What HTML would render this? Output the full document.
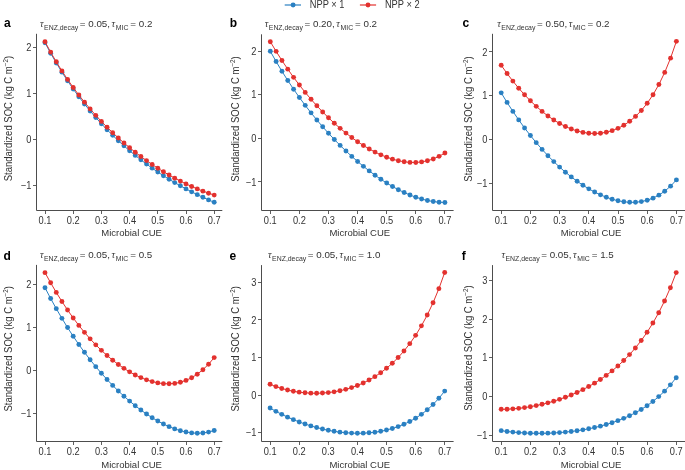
<!DOCTYPE html>
<html><head><meta charset="utf-8"><style>
html,body{margin:0;padding:0;background:#fff;}
body{width:685px;height:470px;overflow:hidden;}
svg{display:block;will-change:transform;}
text{font-family:"Liberation Sans",sans-serif;fill:#333333;}
.tk{font-size:10px;}
.al{font-size:9.5px;}
.yl{font-size:10px;}
.ti{font-size:9.8px;}
.sub{font-size:6.9px;}
.sup{font-size:6.6px;}
.tau{font-family:"Liberation Serif",serif;font-style:italic;font-size:10px;}
.lt{font-weight:bold;font-size:12px;fill:#000;}
.lg{font-size:10px;}
</style></head><body>
<svg width="685" height="470" viewBox="0 0 685 470">
<path d="M36.5 33.8V210.5H222.3" fill="none" stroke="#4d4d4d" stroke-width="1"/>
<line x1="45.5" y1="210.5" x2="45.5" y2="214" stroke="#4d4d4d" stroke-width="0.9"/>
<text transform="translate(45 223.5) scale(0.93 1)" class="tk" text-anchor="middle">0.1</text>
<line x1="73.5" y1="210.5" x2="73.5" y2="214" stroke="#4d4d4d" stroke-width="0.9"/>
<text transform="translate(73.2 223.5) scale(0.93 1)" class="tk" text-anchor="middle">0.2</text>
<line x1="101.5" y1="210.5" x2="101.5" y2="214" stroke="#4d4d4d" stroke-width="0.9"/>
<text transform="translate(101.4 223.5) scale(0.93 1)" class="tk" text-anchor="middle">0.3</text>
<line x1="129.5" y1="210.5" x2="129.5" y2="214" stroke="#4d4d4d" stroke-width="0.9"/>
<text transform="translate(129.6 223.5) scale(0.93 1)" class="tk" text-anchor="middle">0.4</text>
<line x1="157.5" y1="210.5" x2="157.5" y2="214" stroke="#4d4d4d" stroke-width="0.9"/>
<text transform="translate(157.8 223.5) scale(0.93 1)" class="tk" text-anchor="middle">0.5</text>
<line x1="186.5" y1="210.5" x2="186.5" y2="214" stroke="#4d4d4d" stroke-width="0.9"/>
<text transform="translate(186 223.5) scale(0.93 1)" class="tk" text-anchor="middle">0.6</text>
<line x1="214.5" y1="210.5" x2="214.5" y2="214" stroke="#4d4d4d" stroke-width="0.9"/>
<text transform="translate(214.2 223.5) scale(0.93 1)" class="tk" text-anchor="middle">0.7</text>
<line x1="33" y1="47.5" x2="36.5" y2="47.5" stroke="#4d4d4d" stroke-width="0.9"/>
<text transform="translate(31.5 50.9) scale(0.93 1)" class="tk" text-anchor="end">2</text>
<line x1="33" y1="93.5" x2="36.5" y2="93.5" stroke="#4d4d4d" stroke-width="0.9"/>
<text transform="translate(31.5 97) scale(0.93 1)" class="tk" text-anchor="end">1</text>
<line x1="33" y1="139.5" x2="36.5" y2="139.5" stroke="#4d4d4d" stroke-width="0.9"/>
<text transform="translate(31.5 143) scale(0.93 1)" class="tk" text-anchor="end">0</text>
<line x1="33" y1="185.5" x2="36.5" y2="185.5" stroke="#4d4d4d" stroke-width="0.9"/>
<text transform="translate(31.5 189.1) scale(0.93 1)" class="tk" text-anchor="end">−1</text>
<polyline points="45,42.75 50.64,53.19 56.28,62.98 61.92,72.17 67.56,80.83 73.2,88.99 78.84,96.7 84.48,104.01 90.12,110.93 95.76,117.5 101.4,123.74 107.04,129.68 112.68,135.34 118.32,140.72 123.96,145.86 129.6,150.75 135.24,155.42 140.88,159.87 146.52,164.11 152.16,168.16 157.8,172.03 163.44,175.72 169.08,179.24 174.72,182.6 180.36,185.82 186,188.89 191.64,191.83 197.28,194.63 202.92,197.32 208.56,199.88 214.2,202.32" fill="none" stroke="#2a80c2" stroke-width="1.0"/>
<g fill="#2a80c2"><circle cx="45" cy="42.75" r="2.45"/><circle cx="50.64" cy="53.19" r="2.45"/><circle cx="56.28" cy="62.98" r="2.45"/><circle cx="61.92" cy="72.17" r="2.45"/><circle cx="67.56" cy="80.83" r="2.45"/><circle cx="73.2" cy="88.99" r="2.45"/><circle cx="78.84" cy="96.7" r="2.45"/><circle cx="84.48" cy="104.01" r="2.45"/><circle cx="90.12" cy="110.93" r="2.45"/><circle cx="95.76" cy="117.5" r="2.45"/><circle cx="101.4" cy="123.74" r="2.45"/><circle cx="107.04" cy="129.68" r="2.45"/><circle cx="112.68" cy="135.34" r="2.45"/><circle cx="118.32" cy="140.72" r="2.45"/><circle cx="123.96" cy="145.86" r="2.45"/><circle cx="129.6" cy="150.75" r="2.45"/><circle cx="135.24" cy="155.42" r="2.45"/><circle cx="140.88" cy="159.87" r="2.45"/><circle cx="146.52" cy="164.11" r="2.45"/><circle cx="152.16" cy="168.16" r="2.45"/><circle cx="157.8" cy="172.03" r="2.45"/><circle cx="163.44" cy="175.72" r="2.45"/><circle cx="169.08" cy="179.24" r="2.45"/><circle cx="174.72" cy="182.6" r="2.45"/><circle cx="180.36" cy="185.82" r="2.45"/><circle cx="186" cy="188.89" r="2.45"/><circle cx="191.64" cy="191.83" r="2.45"/><circle cx="197.28" cy="194.63" r="2.45"/><circle cx="202.92" cy="197.32" r="2.45"/><circle cx="208.56" cy="199.88" r="2.45"/><circle cx="214.2" cy="202.32" r="2.45"/></g>
<polyline points="45,41.69 50.64,52.09 56.28,61.8 61.92,70.89 67.56,79.42 73.2,87.44 78.84,95.01 84.48,102.16 90.12,108.92 95.76,115.33 101.4,121.42 107.04,127.2 112.68,132.71 118.32,137.94 123.96,142.93 129.6,147.68 135.24,152.21 140.88,156.51 146.52,160.61 152.16,164.5 157.8,168.2 163.44,171.71 169.08,175.02 174.72,178.15 180.36,181.11 186,183.88 191.64,186.47 197.28,188.89 202.92,191.13 208.56,193.2 214.2,195.08" fill="none" stroke="#e3312e" stroke-width="1.0"/>
<g fill="#e3312e"><circle cx="45" cy="41.69" r="2.45"/><circle cx="50.64" cy="52.09" r="2.45"/><circle cx="56.28" cy="61.8" r="2.45"/><circle cx="61.92" cy="70.89" r="2.45"/><circle cx="67.56" cy="79.42" r="2.45"/><circle cx="73.2" cy="87.44" r="2.45"/><circle cx="78.84" cy="95.01" r="2.45"/><circle cx="84.48" cy="102.16" r="2.45"/><circle cx="90.12" cy="108.92" r="2.45"/><circle cx="95.76" cy="115.33" r="2.45"/><circle cx="101.4" cy="121.42" r="2.45"/><circle cx="107.04" cy="127.2" r="2.45"/><circle cx="112.68" cy="132.71" r="2.45"/><circle cx="118.32" cy="137.94" r="2.45"/><circle cx="123.96" cy="142.93" r="2.45"/><circle cx="129.6" cy="147.68" r="2.45"/><circle cx="135.24" cy="152.21" r="2.45"/><circle cx="140.88" cy="156.51" r="2.45"/><circle cx="146.52" cy="160.61" r="2.45"/><circle cx="152.16" cy="164.5" r="2.45"/><circle cx="157.8" cy="168.2" r="2.45"/><circle cx="163.44" cy="171.71" r="2.45"/><circle cx="169.08" cy="175.02" r="2.45"/><circle cx="174.72" cy="178.15" r="2.45"/><circle cx="180.36" cy="181.11" r="2.45"/><circle cx="186" cy="183.88" r="2.45"/><circle cx="191.64" cy="186.47" r="2.45"/><circle cx="197.28" cy="188.89" r="2.45"/><circle cx="202.92" cy="191.13" r="2.45"/><circle cx="208.56" cy="193.2" r="2.45"/><circle cx="214.2" cy="195.08" r="2.45"/></g>
<text y="27" class="ti"><tspan x="40" class="tau">τ</tspan><tspan x="44.1" class="sub" dy="3">ENZ,decay</tspan><tspan x="79.8" dy="-3">= 0.05,</tspan><tspan x="111.5" class="tau">τ</tspan><tspan x="115.8" class="sub" dy="3">MIC</tspan><tspan x="130.3" dy="-3">= 0.2</tspan></text>
<text x="4" y="26.9" class="lt">a</text>
<text transform="translate(11.8 118.6) rotate(-90) scale(0.95 1)" class="yl" text-anchor="middle">Standardized SOC (kg C m<tspan class="sup" dy="-3.5">−2</tspan><tspan dy="3.5">)</tspan></text>
<text x="131.6" y="235.8" class="al" text-anchor="middle">Microbial CUE</text>
<path d="M261.5 34.3V210.5H453.6" fill="none" stroke="#4d4d4d" stroke-width="1"/>
<line x1="270.5" y1="210.5" x2="270.5" y2="214" stroke="#4d4d4d" stroke-width="0.9"/>
<text transform="translate(270.3 223.5) scale(0.93 1)" class="tk" text-anchor="middle">0.1</text>
<line x1="299.5" y1="210.5" x2="299.5" y2="214" stroke="#4d4d4d" stroke-width="0.9"/>
<text transform="translate(299.4 223.5) scale(0.93 1)" class="tk" text-anchor="middle">0.2</text>
<line x1="328.5" y1="210.5" x2="328.5" y2="214" stroke="#4d4d4d" stroke-width="0.9"/>
<text transform="translate(328.5 223.5) scale(0.93 1)" class="tk" text-anchor="middle">0.3</text>
<line x1="357.5" y1="210.5" x2="357.5" y2="214" stroke="#4d4d4d" stroke-width="0.9"/>
<text transform="translate(357.6 223.5) scale(0.93 1)" class="tk" text-anchor="middle">0.4</text>
<line x1="386.5" y1="210.5" x2="386.5" y2="214" stroke="#4d4d4d" stroke-width="0.9"/>
<text transform="translate(386.7 223.5) scale(0.93 1)" class="tk" text-anchor="middle">0.5</text>
<line x1="415.5" y1="210.5" x2="415.5" y2="214" stroke="#4d4d4d" stroke-width="0.9"/>
<text transform="translate(415.8 223.5) scale(0.93 1)" class="tk" text-anchor="middle">0.6</text>
<line x1="444.5" y1="210.5" x2="444.5" y2="214" stroke="#4d4d4d" stroke-width="0.9"/>
<text transform="translate(444.9 223.5) scale(0.93 1)" class="tk" text-anchor="middle">0.7</text>
<line x1="258" y1="51.5" x2="261.5" y2="51.5" stroke="#4d4d4d" stroke-width="0.9"/>
<text transform="translate(256.5 54.9) scale(0.93 1)" class="tk" text-anchor="end">2</text>
<line x1="258" y1="94.5" x2="261.5" y2="94.5" stroke="#4d4d4d" stroke-width="0.9"/>
<text transform="translate(256.5 98.4) scale(0.93 1)" class="tk" text-anchor="end">1</text>
<line x1="258" y1="138.5" x2="261.5" y2="138.5" stroke="#4d4d4d" stroke-width="0.9"/>
<text transform="translate(256.5 142) scale(0.93 1)" class="tk" text-anchor="end">0</text>
<line x1="258" y1="181.5" x2="261.5" y2="181.5" stroke="#4d4d4d" stroke-width="0.9"/>
<text transform="translate(256.5 185.5) scale(0.93 1)" class="tk" text-anchor="end">−1</text>
<polyline points="270.3,51.27 276.12,61.54 281.94,71.26 287.76,80.47 293.58,89.2 299.4,97.48 305.22,105.36 311.04,112.85 316.86,119.99 322.68,126.79 328.5,133.28 334.32,139.47 340.14,145.38 345.96,151.01 351.78,156.38 357.6,161.49 363.42,166.34 369.24,170.92 375.06,175.24 380.88,179.29 386.7,183.05 392.52,186.52 398.34,189.68 404.16,192.53 409.98,195.04 415.8,197.21 421.62,199.02 427.44,200.46 433.26,201.51 439.08,202.18 444.9,202.46" fill="none" stroke="#2a80c2" stroke-width="1.0"/>
<g fill="#2a80c2"><circle cx="270.3" cy="51.27" r="2.45"/><circle cx="276.12" cy="61.54" r="2.45"/><circle cx="281.94" cy="71.26" r="2.45"/><circle cx="287.76" cy="80.47" r="2.45"/><circle cx="293.58" cy="89.2" r="2.45"/><circle cx="299.4" cy="97.48" r="2.45"/><circle cx="305.22" cy="105.36" r="2.45"/><circle cx="311.04" cy="112.85" r="2.45"/><circle cx="316.86" cy="119.99" r="2.45"/><circle cx="322.68" cy="126.79" r="2.45"/><circle cx="328.5" cy="133.28" r="2.45"/><circle cx="334.32" cy="139.47" r="2.45"/><circle cx="340.14" cy="145.38" r="2.45"/><circle cx="345.96" cy="151.01" r="2.45"/><circle cx="351.78" cy="156.38" r="2.45"/><circle cx="357.6" cy="161.49" r="2.45"/><circle cx="363.42" cy="166.34" r="2.45"/><circle cx="369.24" cy="170.92" r="2.45"/><circle cx="375.06" cy="175.24" r="2.45"/><circle cx="380.88" cy="179.29" r="2.45"/><circle cx="386.7" cy="183.05" r="2.45"/><circle cx="392.52" cy="186.52" r="2.45"/><circle cx="398.34" cy="189.68" r="2.45"/><circle cx="404.16" cy="192.53" r="2.45"/><circle cx="409.98" cy="195.04" r="2.45"/><circle cx="415.8" cy="197.21" r="2.45"/><circle cx="421.62" cy="199.02" r="2.45"/><circle cx="427.44" cy="200.46" r="2.45"/><circle cx="433.26" cy="201.51" r="2.45"/><circle cx="439.08" cy="202.18" r="2.45"/><circle cx="444.9" cy="202.46" r="2.45"/></g>
<polyline points="270.3,41.69 276.12,51.35 281.94,60.5 287.76,69.15 293.58,77.33 299.4,85.07 305.22,92.38 311.04,99.29 316.86,105.82 322.68,111.97 328.5,117.77 334.32,123.22 340.14,128.33 345.96,133.12 351.78,137.57 357.6,141.7 363.42,145.5 369.24,148.96 375.06,152.08 380.88,154.83 386.7,157.2 392.52,159.17 398.34,160.71 404.16,161.79 409.98,162.38 415.8,162.43 421.62,161.91 427.44,160.76 433.26,158.93 439.08,156.36 444.9,152.99" fill="none" stroke="#e3312e" stroke-width="1.0"/>
<g fill="#e3312e"><circle cx="270.3" cy="41.69" r="2.45"/><circle cx="276.12" cy="51.35" r="2.45"/><circle cx="281.94" cy="60.5" r="2.45"/><circle cx="287.76" cy="69.15" r="2.45"/><circle cx="293.58" cy="77.33" r="2.45"/><circle cx="299.4" cy="85.07" r="2.45"/><circle cx="305.22" cy="92.38" r="2.45"/><circle cx="311.04" cy="99.29" r="2.45"/><circle cx="316.86" cy="105.82" r="2.45"/><circle cx="322.68" cy="111.97" r="2.45"/><circle cx="328.5" cy="117.77" r="2.45"/><circle cx="334.32" cy="123.22" r="2.45"/><circle cx="340.14" cy="128.33" r="2.45"/><circle cx="345.96" cy="133.12" r="2.45"/><circle cx="351.78" cy="137.57" r="2.45"/><circle cx="357.6" cy="141.7" r="2.45"/><circle cx="363.42" cy="145.5" r="2.45"/><circle cx="369.24" cy="148.96" r="2.45"/><circle cx="375.06" cy="152.08" r="2.45"/><circle cx="380.88" cy="154.83" r="2.45"/><circle cx="386.7" cy="157.2" r="2.45"/><circle cx="392.52" cy="159.17" r="2.45"/><circle cx="398.34" cy="160.71" r="2.45"/><circle cx="404.16" cy="161.79" r="2.45"/><circle cx="409.98" cy="162.38" r="2.45"/><circle cx="415.8" cy="162.43" r="2.45"/><circle cx="421.62" cy="161.91" r="2.45"/><circle cx="427.44" cy="160.76" r="2.45"/><circle cx="433.26" cy="158.93" r="2.45"/><circle cx="439.08" cy="156.36" r="2.45"/><circle cx="444.9" cy="152.99" r="2.45"/></g>
<text y="27" class="ti"><tspan x="264.7" class="tau">τ</tspan><tspan x="268.8" class="sub" dy="3">ENZ,decay</tspan><tspan x="304.5" dy="-3">= 0.20,</tspan><tspan x="336.2" class="tau">τ</tspan><tspan x="340.5" class="sub" dy="3">MIC</tspan><tspan x="355" dy="-3">= 0.2</tspan></text>
<text x="229.8" y="26.9" class="lt">b</text>
<text transform="translate(238.6 119) rotate(-90) scale(0.95 1)" class="yl" text-anchor="middle">Standardized SOC (kg C m<tspan class="sup" dy="-3.5">−2</tspan><tspan dy="3.5">)</tspan></text>
<text x="359.8" y="235.8" class="al" text-anchor="middle">Microbial CUE</text>
<path d="M492.5 33.8V210.5H685.5" fill="none" stroke="#4d4d4d" stroke-width="1"/>
<line x1="501.5" y1="210.5" x2="501.5" y2="214" stroke="#4d4d4d" stroke-width="0.9"/>
<text transform="translate(501.2 223.5) scale(0.93 1)" class="tk" text-anchor="middle">0.1</text>
<line x1="530.5" y1="210.5" x2="530.5" y2="214" stroke="#4d4d4d" stroke-width="0.9"/>
<text transform="translate(530.4 223.5) scale(0.93 1)" class="tk" text-anchor="middle">0.2</text>
<line x1="559.5" y1="210.5" x2="559.5" y2="214" stroke="#4d4d4d" stroke-width="0.9"/>
<text transform="translate(559.6 223.5) scale(0.93 1)" class="tk" text-anchor="middle">0.3</text>
<line x1="588.5" y1="210.5" x2="588.5" y2="214" stroke="#4d4d4d" stroke-width="0.9"/>
<text transform="translate(588.8 223.5) scale(0.93 1)" class="tk" text-anchor="middle">0.4</text>
<line x1="618.5" y1="210.5" x2="618.5" y2="214" stroke="#4d4d4d" stroke-width="0.9"/>
<text transform="translate(618 223.5) scale(0.93 1)" class="tk" text-anchor="middle">0.5</text>
<line x1="647.5" y1="210.5" x2="647.5" y2="214" stroke="#4d4d4d" stroke-width="0.9"/>
<text transform="translate(647.2 223.5) scale(0.93 1)" class="tk" text-anchor="middle">0.6</text>
<line x1="676.5" y1="210.5" x2="676.5" y2="214" stroke="#4d4d4d" stroke-width="0.9"/>
<text transform="translate(676.4 223.5) scale(0.93 1)" class="tk" text-anchor="middle">0.7</text>
<line x1="489" y1="51.5" x2="492.5" y2="51.5" stroke="#4d4d4d" stroke-width="0.9"/>
<text transform="translate(487.5 55.5) scale(0.93 1)" class="tk" text-anchor="end">2</text>
<line x1="489" y1="95.5" x2="492.5" y2="95.5" stroke="#4d4d4d" stroke-width="0.9"/>
<text transform="translate(487.5 99.3) scale(0.93 1)" class="tk" text-anchor="end">1</text>
<line x1="489" y1="139.5" x2="492.5" y2="139.5" stroke="#4d4d4d" stroke-width="0.9"/>
<text transform="translate(487.5 143.1) scale(0.93 1)" class="tk" text-anchor="end">0</text>
<line x1="489" y1="183.5" x2="492.5" y2="183.5" stroke="#4d4d4d" stroke-width="0.9"/>
<text transform="translate(487.5 186.8) scale(0.93 1)" class="tk" text-anchor="end">−1</text>
<polyline points="501.2,92.86 507.04,102.39 512.88,111.39 518.72,119.91 524.56,127.95 530.4,135.53 536.24,142.67 542.08,149.38 547.92,155.68 553.76,161.58 559.6,167.08 565.44,172.19 571.28,176.92 577.12,181.27 582.96,185.24 588.8,188.83 594.64,192.04 600.48,194.85 606.32,197.25 612.16,199.22 618,200.75 623.84,201.79 629.68,202.31 635.52,202.27 641.36,201.61 647.2,200.25 653.04,198.13 658.88,195.15 664.72,191.2 670.56,186.17 676.4,179.92" fill="none" stroke="#2a80c2" stroke-width="1.0"/>
<g fill="#2a80c2"><circle cx="501.2" cy="92.86" r="2.45"/><circle cx="507.04" cy="102.39" r="2.45"/><circle cx="512.88" cy="111.39" r="2.45"/><circle cx="518.72" cy="119.91" r="2.45"/><circle cx="524.56" cy="127.95" r="2.45"/><circle cx="530.4" cy="135.53" r="2.45"/><circle cx="536.24" cy="142.67" r="2.45"/><circle cx="542.08" cy="149.38" r="2.45"/><circle cx="547.92" cy="155.68" r="2.45"/><circle cx="553.76" cy="161.58" r="2.45"/><circle cx="559.6" cy="167.08" r="2.45"/><circle cx="565.44" cy="172.19" r="2.45"/><circle cx="571.28" cy="176.92" r="2.45"/><circle cx="577.12" cy="181.27" r="2.45"/><circle cx="582.96" cy="185.24" r="2.45"/><circle cx="588.8" cy="188.83" r="2.45"/><circle cx="594.64" cy="192.04" r="2.45"/><circle cx="600.48" cy="194.85" r="2.45"/><circle cx="606.32" cy="197.25" r="2.45"/><circle cx="612.16" cy="199.22" r="2.45"/><circle cx="618" cy="200.75" r="2.45"/><circle cx="623.84" cy="201.79" r="2.45"/><circle cx="629.68" cy="202.31" r="2.45"/><circle cx="635.52" cy="202.27" r="2.45"/><circle cx="641.36" cy="201.61" r="2.45"/><circle cx="647.2" cy="200.25" r="2.45"/><circle cx="653.04" cy="198.13" r="2.45"/><circle cx="658.88" cy="195.15" r="2.45"/><circle cx="664.72" cy="191.2" r="2.45"/><circle cx="670.56" cy="186.17" r="2.45"/><circle cx="676.4" cy="179.92" r="2.45"/></g>
<polyline points="501.2,65.23 507.04,73.48 512.88,81.12 518.72,88.21 524.56,94.77 530.4,100.82 536.24,106.36 542.08,111.4 547.92,115.94 553.76,119.98 559.6,123.5 565.44,126.52 571.28,129.01 577.12,130.96 582.96,132.38 588.8,133.23 594.64,133.51 600.48,133.2 606.32,132.26 612.16,130.65 618,128.34 623.84,125.25 629.68,121.31 635.52,116.42 641.36,110.46 647.2,103.28 653.04,94.7 658.88,84.5 664.72,72.42 670.56,58.15 676.4,41.34" fill="none" stroke="#e3312e" stroke-width="1.0"/>
<g fill="#e3312e"><circle cx="501.2" cy="65.23" r="2.45"/><circle cx="507.04" cy="73.48" r="2.45"/><circle cx="512.88" cy="81.12" r="2.45"/><circle cx="518.72" cy="88.21" r="2.45"/><circle cx="524.56" cy="94.77" r="2.45"/><circle cx="530.4" cy="100.82" r="2.45"/><circle cx="536.24" cy="106.36" r="2.45"/><circle cx="542.08" cy="111.4" r="2.45"/><circle cx="547.92" cy="115.94" r="2.45"/><circle cx="553.76" cy="119.98" r="2.45"/><circle cx="559.6" cy="123.5" r="2.45"/><circle cx="565.44" cy="126.52" r="2.45"/><circle cx="571.28" cy="129.01" r="2.45"/><circle cx="577.12" cy="130.96" r="2.45"/><circle cx="582.96" cy="132.38" r="2.45"/><circle cx="588.8" cy="133.23" r="2.45"/><circle cx="594.64" cy="133.51" r="2.45"/><circle cx="600.48" cy="133.2" r="2.45"/><circle cx="606.32" cy="132.26" r="2.45"/><circle cx="612.16" cy="130.65" r="2.45"/><circle cx="618" cy="128.34" r="2.45"/><circle cx="623.84" cy="125.25" r="2.45"/><circle cx="629.68" cy="121.31" r="2.45"/><circle cx="635.52" cy="116.42" r="2.45"/><circle cx="641.36" cy="110.46" r="2.45"/><circle cx="647.2" cy="103.28" r="2.45"/><circle cx="653.04" cy="94.7" r="2.45"/><circle cx="658.88" cy="84.5" r="2.45"/><circle cx="664.72" cy="72.42" r="2.45"/><circle cx="670.56" cy="58.15" r="2.45"/><circle cx="676.4" cy="41.34" r="2.45"/></g>
<text y="27" class="ti"><tspan x="497.2" class="tau">τ</tspan><tspan x="501.3" class="sub" dy="3">ENZ,decay</tspan><tspan x="537" dy="-3">= 0.50,</tspan><tspan x="568.7" class="tau">τ</tspan><tspan x="573" class="sub" dy="3">MIC</tspan><tspan x="587.5" dy="-3">= 0.2</tspan></text>
<text x="462.5" y="26.9" class="lt">c</text>
<text transform="translate(471.5 119) rotate(-90) scale(0.95 1)" class="yl" text-anchor="middle">Standardized SOC (kg C m<tspan class="sup" dy="-3.5">−2</tspan><tspan dy="3.5">)</tspan></text>
<text x="591.1" y="235.8" class="al" text-anchor="middle">Microbial CUE</text>
<path d="M36.5 264.9V441.5H222.3" fill="none" stroke="#4d4d4d" stroke-width="1"/>
<line x1="45.5" y1="441.5" x2="45.5" y2="445" stroke="#4d4d4d" stroke-width="0.9"/>
<text transform="translate(45 454.5) scale(0.93 1)" class="tk" text-anchor="middle">0.1</text>
<line x1="73.5" y1="441.5" x2="73.5" y2="445" stroke="#4d4d4d" stroke-width="0.9"/>
<text transform="translate(73.2 454.5) scale(0.93 1)" class="tk" text-anchor="middle">0.2</text>
<line x1="101.5" y1="441.5" x2="101.5" y2="445" stroke="#4d4d4d" stroke-width="0.9"/>
<text transform="translate(101.4 454.5) scale(0.93 1)" class="tk" text-anchor="middle">0.3</text>
<line x1="129.5" y1="441.5" x2="129.5" y2="445" stroke="#4d4d4d" stroke-width="0.9"/>
<text transform="translate(129.6 454.5) scale(0.93 1)" class="tk" text-anchor="middle">0.4</text>
<line x1="157.5" y1="441.5" x2="157.5" y2="445" stroke="#4d4d4d" stroke-width="0.9"/>
<text transform="translate(157.8 454.5) scale(0.93 1)" class="tk" text-anchor="middle">0.5</text>
<line x1="186.5" y1="441.5" x2="186.5" y2="445" stroke="#4d4d4d" stroke-width="0.9"/>
<text transform="translate(186 454.5) scale(0.93 1)" class="tk" text-anchor="middle">0.6</text>
<line x1="214.5" y1="441.5" x2="214.5" y2="445" stroke="#4d4d4d" stroke-width="0.9"/>
<text transform="translate(214.2 454.5) scale(0.93 1)" class="tk" text-anchor="middle">0.7</text>
<line x1="33" y1="284.5" x2="36.5" y2="284.5" stroke="#4d4d4d" stroke-width="0.9"/>
<text transform="translate(31.5 287.9) scale(0.93 1)" class="tk" text-anchor="end">2</text>
<line x1="33" y1="327.5" x2="36.5" y2="327.5" stroke="#4d4d4d" stroke-width="0.9"/>
<text transform="translate(31.5 330.8) scale(0.93 1)" class="tk" text-anchor="end">1</text>
<line x1="33" y1="370.5" x2="36.5" y2="370.5" stroke="#4d4d4d" stroke-width="0.9"/>
<text transform="translate(31.5 373.8) scale(0.93 1)" class="tk" text-anchor="end">0</text>
<line x1="33" y1="413.5" x2="36.5" y2="413.5" stroke="#4d4d4d" stroke-width="0.9"/>
<text transform="translate(31.5 416.7) scale(0.93 1)" class="tk" text-anchor="end">−1</text>
<polyline points="45,287.7 50.64,298.45 56.28,308.67 61.92,318.36 67.56,327.55 73.2,336.26 78.84,344.5 84.48,352.3 90.12,359.69 95.76,366.67 101.4,373.27 107.04,379.5 112.68,385.4 118.32,390.96 123.96,396.2 129.6,401.12 135.24,405.74 140.88,410.04 146.52,414.04 152.16,417.71 157.8,421.05 163.44,424.03 169.08,426.65 174.72,428.88 180.36,430.68 186,432.03 191.64,432.88 197.28,433.21 202.92,432.96 208.56,432.1 214.2,430.56" fill="none" stroke="#2a80c2" stroke-width="1.0"/>
<g fill="#2a80c2"><circle cx="45" cy="287.7" r="2.45"/><circle cx="50.64" cy="298.45" r="2.45"/><circle cx="56.28" cy="308.67" r="2.45"/><circle cx="61.92" cy="318.36" r="2.45"/><circle cx="67.56" cy="327.55" r="2.45"/><circle cx="73.2" cy="336.26" r="2.45"/><circle cx="78.84" cy="344.5" r="2.45"/><circle cx="84.48" cy="352.3" r="2.45"/><circle cx="90.12" cy="359.69" r="2.45"/><circle cx="95.76" cy="366.67" r="2.45"/><circle cx="101.4" cy="373.27" r="2.45"/><circle cx="107.04" cy="379.5" r="2.45"/><circle cx="112.68" cy="385.4" r="2.45"/><circle cx="118.32" cy="390.96" r="2.45"/><circle cx="123.96" cy="396.2" r="2.45"/><circle cx="129.6" cy="401.12" r="2.45"/><circle cx="135.24" cy="405.74" r="2.45"/><circle cx="140.88" cy="410.04" r="2.45"/><circle cx="146.52" cy="414.04" r="2.45"/><circle cx="152.16" cy="417.71" r="2.45"/><circle cx="157.8" cy="421.05" r="2.45"/><circle cx="163.44" cy="424.03" r="2.45"/><circle cx="169.08" cy="426.65" r="2.45"/><circle cx="174.72" cy="428.88" r="2.45"/><circle cx="180.36" cy="430.68" r="2.45"/><circle cx="186" cy="432.03" r="2.45"/><circle cx="191.64" cy="432.88" r="2.45"/><circle cx="197.28" cy="433.21" r="2.45"/><circle cx="202.92" cy="432.96" r="2.45"/><circle cx="208.56" cy="432.1" r="2.45"/><circle cx="214.2" cy="430.56" r="2.45"/></g>
<polyline points="45,272.67 50.64,282.82 56.28,292.42 61.92,301.48 67.56,309.99 73.2,317.97 78.84,325.42 84.48,332.37 90.12,338.83 95.76,344.83 101.4,350.37 107.04,355.49 112.68,360.19 118.32,364.48 123.96,368.37 129.6,371.86 135.24,374.94 140.88,377.61 146.52,379.84 152.16,381.61 157.8,382.89 163.44,383.64 169.08,383.82 174.72,383.38 180.36,382.26 186,380.4 191.64,377.73 197.28,374.2 202.92,369.71 208.56,364.21 214.2,357.61" fill="none" stroke="#e3312e" stroke-width="1.0"/>
<g fill="#e3312e"><circle cx="45" cy="272.67" r="2.45"/><circle cx="50.64" cy="282.82" r="2.45"/><circle cx="56.28" cy="292.42" r="2.45"/><circle cx="61.92" cy="301.48" r="2.45"/><circle cx="67.56" cy="309.99" r="2.45"/><circle cx="73.2" cy="317.97" r="2.45"/><circle cx="78.84" cy="325.42" r="2.45"/><circle cx="84.48" cy="332.37" r="2.45"/><circle cx="90.12" cy="338.83" r="2.45"/><circle cx="95.76" cy="344.83" r="2.45"/><circle cx="101.4" cy="350.37" r="2.45"/><circle cx="107.04" cy="355.49" r="2.45"/><circle cx="112.68" cy="360.19" r="2.45"/><circle cx="118.32" cy="364.48" r="2.45"/><circle cx="123.96" cy="368.37" r="2.45"/><circle cx="129.6" cy="371.86" r="2.45"/><circle cx="135.24" cy="374.94" r="2.45"/><circle cx="140.88" cy="377.61" r="2.45"/><circle cx="146.52" cy="379.84" r="2.45"/><circle cx="152.16" cy="381.61" r="2.45"/><circle cx="157.8" cy="382.89" r="2.45"/><circle cx="163.44" cy="383.64" r="2.45"/><circle cx="169.08" cy="383.82" r="2.45"/><circle cx="174.72" cy="383.38" r="2.45"/><circle cx="180.36" cy="382.26" r="2.45"/><circle cx="186" cy="380.4" r="2.45"/><circle cx="191.64" cy="377.73" r="2.45"/><circle cx="197.28" cy="374.2" r="2.45"/><circle cx="202.92" cy="369.71" r="2.45"/><circle cx="208.56" cy="364.21" r="2.45"/><circle cx="214.2" cy="357.61" r="2.45"/></g>
<text y="257.7" class="ti"><tspan x="39.9" class="tau">τ</tspan><tspan x="44" class="sub" dy="3">ENZ,decay</tspan><tspan x="79.7" dy="-3">= 0.05,</tspan><tspan x="111.4" class="tau">τ</tspan><tspan x="115.7" class="sub" dy="3">MIC</tspan><tspan x="130.2" dy="-3">= 0.5</tspan></text>
<text x="3.4" y="259.6" class="lt">d</text>
<text transform="translate(11.6 348.8) rotate(-90) scale(0.95 1)" class="yl" text-anchor="middle">Standardized SOC (kg C m<tspan class="sup" dy="-3.5">−2</tspan><tspan dy="3.5">)</tspan></text>
<text x="131.6" y="468" class="al" text-anchor="middle">Microbial CUE</text>
<path d="M261.5 265.1V441.5H453.6" fill="none" stroke="#4d4d4d" stroke-width="1"/>
<line x1="270.5" y1="441.5" x2="270.5" y2="445" stroke="#4d4d4d" stroke-width="0.9"/>
<text transform="translate(270.1 454.5) scale(0.93 1)" class="tk" text-anchor="middle">0.1</text>
<line x1="299.5" y1="441.5" x2="299.5" y2="445" stroke="#4d4d4d" stroke-width="0.9"/>
<text transform="translate(299.2 454.5) scale(0.93 1)" class="tk" text-anchor="middle">0.2</text>
<line x1="328.5" y1="441.5" x2="328.5" y2="445" stroke="#4d4d4d" stroke-width="0.9"/>
<text transform="translate(328.3 454.5) scale(0.93 1)" class="tk" text-anchor="middle">0.3</text>
<line x1="357.5" y1="441.5" x2="357.5" y2="445" stroke="#4d4d4d" stroke-width="0.9"/>
<text transform="translate(357.4 454.5) scale(0.93 1)" class="tk" text-anchor="middle">0.4</text>
<line x1="386.5" y1="441.5" x2="386.5" y2="445" stroke="#4d4d4d" stroke-width="0.9"/>
<text transform="translate(386.5 454.5) scale(0.93 1)" class="tk" text-anchor="middle">0.5</text>
<line x1="415.5" y1="441.5" x2="415.5" y2="445" stroke="#4d4d4d" stroke-width="0.9"/>
<text transform="translate(415.6 454.5) scale(0.93 1)" class="tk" text-anchor="middle">0.6</text>
<line x1="444.5" y1="441.5" x2="444.5" y2="445" stroke="#4d4d4d" stroke-width="0.9"/>
<text transform="translate(444.7 454.5) scale(0.93 1)" class="tk" text-anchor="middle">0.7</text>
<line x1="258" y1="282.5" x2="261.5" y2="282.5" stroke="#4d4d4d" stroke-width="0.9"/>
<text transform="translate(256.5 286) scale(0.93 1)" class="tk" text-anchor="end">3</text>
<line x1="258" y1="319.5" x2="261.5" y2="319.5" stroke="#4d4d4d" stroke-width="0.9"/>
<text transform="translate(256.5 323.5) scale(0.93 1)" class="tk" text-anchor="end">2</text>
<line x1="258" y1="357.5" x2="261.5" y2="357.5" stroke="#4d4d4d" stroke-width="0.9"/>
<text transform="translate(256.5 361) scale(0.93 1)" class="tk" text-anchor="end">1</text>
<line x1="258" y1="395.5" x2="261.5" y2="395.5" stroke="#4d4d4d" stroke-width="0.9"/>
<text transform="translate(256.5 398.6) scale(0.93 1)" class="tk" text-anchor="end">0</text>
<line x1="258" y1="432.5" x2="261.5" y2="432.5" stroke="#4d4d4d" stroke-width="0.9"/>
<text transform="translate(256.5 436.2) scale(0.93 1)" class="tk" text-anchor="end">−1</text>
<polyline points="270.1,408.04 275.92,411.35 281.74,414.37 287.56,417.13 293.38,419.65 299.2,421.94 305.02,424.02 310.84,425.89 316.66,427.55 322.48,429.01 328.3,430.26 334.12,431.3 339.94,432.13 345.76,432.74 351.58,433.12 357.4,433.26 363.22,433.17 369.04,432.81 374.86,432.19 380.68,431.28 386.5,430.06 392.32,428.51 398.14,426.6 403.96,424.28 409.78,421.5 415.6,418.22 421.42,414.35 427.24,409.81 433.06,404.5 438.88,398.31 444.7,391.09" fill="none" stroke="#2a80c2" stroke-width="1.0"/>
<g fill="#2a80c2"><circle cx="270.1" cy="408.04" r="2.45"/><circle cx="275.92" cy="411.35" r="2.45"/><circle cx="281.74" cy="414.37" r="2.45"/><circle cx="287.56" cy="417.13" r="2.45"/><circle cx="293.38" cy="419.65" r="2.45"/><circle cx="299.2" cy="421.94" r="2.45"/><circle cx="305.02" cy="424.02" r="2.45"/><circle cx="310.84" cy="425.89" r="2.45"/><circle cx="316.66" cy="427.55" r="2.45"/><circle cx="322.48" cy="429.01" r="2.45"/><circle cx="328.3" cy="430.26" r="2.45"/><circle cx="334.12" cy="431.3" r="2.45"/><circle cx="339.94" cy="432.13" r="2.45"/><circle cx="345.76" cy="432.74" r="2.45"/><circle cx="351.58" cy="433.12" r="2.45"/><circle cx="357.4" cy="433.26" r="2.45"/><circle cx="363.22" cy="433.17" r="2.45"/><circle cx="369.04" cy="432.81" r="2.45"/><circle cx="374.86" cy="432.19" r="2.45"/><circle cx="380.68" cy="431.28" r="2.45"/><circle cx="386.5" cy="430.06" r="2.45"/><circle cx="392.32" cy="428.51" r="2.45"/><circle cx="398.14" cy="426.6" r="2.45"/><circle cx="403.96" cy="424.28" r="2.45"/><circle cx="409.78" cy="421.5" r="2.45"/><circle cx="415.6" cy="418.22" r="2.45"/><circle cx="421.42" cy="414.35" r="2.45"/><circle cx="427.24" cy="409.81" r="2.45"/><circle cx="433.06" cy="404.5" r="2.45"/><circle cx="438.88" cy="398.31" r="2.45"/><circle cx="444.7" cy="391.09" r="2.45"/></g>
<polyline points="270.1,384.27 275.92,386.6 281.74,388.49 287.56,390.02 293.38,391.23 299.2,392.14 305.02,392.77 310.84,393.13 316.66,393.23 322.48,393.05 328.3,392.59 334.12,391.83 339.94,390.76 345.76,389.36 351.58,387.62 357.4,385.5 363.22,382.99 369.04,380.05 374.86,376.65 380.68,372.75 386.5,368.3 392.32,363.25 398.14,357.52 403.96,351.03 409.78,343.67 415.6,335.33 421.42,325.85 427.24,315.06 433.06,302.75 438.88,288.67 444.7,272.55" fill="none" stroke="#e3312e" stroke-width="1.0"/>
<g fill="#e3312e"><circle cx="270.1" cy="384.27" r="2.45"/><circle cx="275.92" cy="386.6" r="2.45"/><circle cx="281.74" cy="388.49" r="2.45"/><circle cx="287.56" cy="390.02" r="2.45"/><circle cx="293.38" cy="391.23" r="2.45"/><circle cx="299.2" cy="392.14" r="2.45"/><circle cx="305.02" cy="392.77" r="2.45"/><circle cx="310.84" cy="393.13" r="2.45"/><circle cx="316.66" cy="393.23" r="2.45"/><circle cx="322.48" cy="393.05" r="2.45"/><circle cx="328.3" cy="392.59" r="2.45"/><circle cx="334.12" cy="391.83" r="2.45"/><circle cx="339.94" cy="390.76" r="2.45"/><circle cx="345.76" cy="389.36" r="2.45"/><circle cx="351.58" cy="387.62" r="2.45"/><circle cx="357.4" cy="385.5" r="2.45"/><circle cx="363.22" cy="382.99" r="2.45"/><circle cx="369.04" cy="380.05" r="2.45"/><circle cx="374.86" cy="376.65" r="2.45"/><circle cx="380.68" cy="372.75" r="2.45"/><circle cx="386.5" cy="368.3" r="2.45"/><circle cx="392.32" cy="363.25" r="2.45"/><circle cx="398.14" cy="357.52" r="2.45"/><circle cx="403.96" cy="351.03" r="2.45"/><circle cx="409.78" cy="343.67" r="2.45"/><circle cx="415.6" cy="335.33" r="2.45"/><circle cx="421.42" cy="325.85" r="2.45"/><circle cx="427.24" cy="315.06" r="2.45"/><circle cx="433.06" cy="302.75" r="2.45"/><circle cx="438.88" cy="288.67" r="2.45"/><circle cx="444.7" cy="272.55" r="2.45"/></g>
<text y="257.7" class="ti"><tspan x="268" class="tau">τ</tspan><tspan x="272.1" class="sub" dy="3">ENZ,decay</tspan><tspan x="307.8" dy="-3">= 0.05,</tspan><tspan x="339.5" class="tau">τ</tspan><tspan x="343.8" class="sub" dy="3">MIC</tspan><tspan x="358.3" dy="-3">= 1.0</tspan></text>
<text x="229.4" y="259.6" class="lt">e</text>
<text transform="translate(238.6 348.8) rotate(-90) scale(0.95 1)" class="yl" text-anchor="middle">Standardized SOC (kg C m<tspan class="sup" dy="-3.5">−2</tspan><tspan dy="3.5">)</tspan></text>
<text x="359.8" y="468" class="al" text-anchor="middle">Microbial CUE</text>
<path d="M492.5 265.1V441.5H685.5" fill="none" stroke="#4d4d4d" stroke-width="1"/>
<line x1="501.5" y1="441.5" x2="501.5" y2="445" stroke="#4d4d4d" stroke-width="0.9"/>
<text transform="translate(501.2 454.5) scale(0.93 1)" class="tk" text-anchor="middle">0.1</text>
<line x1="530.5" y1="441.5" x2="530.5" y2="445" stroke="#4d4d4d" stroke-width="0.9"/>
<text transform="translate(530.37 454.5) scale(0.93 1)" class="tk" text-anchor="middle">0.2</text>
<line x1="559.5" y1="441.5" x2="559.5" y2="445" stroke="#4d4d4d" stroke-width="0.9"/>
<text transform="translate(559.54 454.5) scale(0.93 1)" class="tk" text-anchor="middle">0.3</text>
<line x1="588.5" y1="441.5" x2="588.5" y2="445" stroke="#4d4d4d" stroke-width="0.9"/>
<text transform="translate(588.71 454.5) scale(0.93 1)" class="tk" text-anchor="middle">0.4</text>
<line x1="617.5" y1="441.5" x2="617.5" y2="445" stroke="#4d4d4d" stroke-width="0.9"/>
<text transform="translate(617.88 454.5) scale(0.93 1)" class="tk" text-anchor="middle">0.5</text>
<line x1="647.5" y1="441.5" x2="647.5" y2="445" stroke="#4d4d4d" stroke-width="0.9"/>
<text transform="translate(647.05 454.5) scale(0.93 1)" class="tk" text-anchor="middle">0.6</text>
<line x1="676.5" y1="441.5" x2="676.5" y2="445" stroke="#4d4d4d" stroke-width="0.9"/>
<text transform="translate(676.22 454.5) scale(0.93 1)" class="tk" text-anchor="middle">0.7</text>
<line x1="489" y1="280.5" x2="492.5" y2="280.5" stroke="#4d4d4d" stroke-width="0.9"/>
<text transform="translate(487.5 283.8) scale(0.93 1)" class="tk" text-anchor="end">3</text>
<line x1="489" y1="319.5" x2="492.5" y2="319.5" stroke="#4d4d4d" stroke-width="0.9"/>
<text transform="translate(487.5 322.6) scale(0.93 1)" class="tk" text-anchor="end">2</text>
<line x1="489" y1="357.5" x2="492.5" y2="357.5" stroke="#4d4d4d" stroke-width="0.9"/>
<text transform="translate(487.5 361.4) scale(0.93 1)" class="tk" text-anchor="end">1</text>
<line x1="489" y1="396.5" x2="492.5" y2="396.5" stroke="#4d4d4d" stroke-width="0.9"/>
<text transform="translate(487.5 400.2) scale(0.93 1)" class="tk" text-anchor="end">0</text>
<line x1="489" y1="435.5" x2="492.5" y2="435.5" stroke="#4d4d4d" stroke-width="0.9"/>
<text transform="translate(487.5 439) scale(0.93 1)" class="tk" text-anchor="end">−1</text>
<polyline points="501.2,430.63 507.03,431.46 512.87,432.11 518.7,432.6 524.54,432.95 530.37,433.18 536.2,433.29 542.04,433.29 547.87,433.17 553.71,432.94 559.54,432.59 565.37,432.11 571.21,431.5 577.04,430.75 582.88,429.85 588.71,428.8 594.54,427.57 600.38,426.16 606.21,424.55 612.05,422.73 617.88,420.67 623.71,418.35 629.55,415.73 635.38,412.78 641.22,409.46 647.05,405.7 652.88,401.45 658.72,396.62 664.55,391.13 670.39,384.87 676.22,377.7" fill="none" stroke="#2a80c2" stroke-width="1.0"/>
<g fill="#2a80c2"><circle cx="501.2" cy="430.63" r="2.45"/><circle cx="507.03" cy="431.46" r="2.45"/><circle cx="512.87" cy="432.11" r="2.45"/><circle cx="518.7" cy="432.6" r="2.45"/><circle cx="524.54" cy="432.95" r="2.45"/><circle cx="530.37" cy="433.18" r="2.45"/><circle cx="536.2" cy="433.29" r="2.45"/><circle cx="542.04" cy="433.29" r="2.45"/><circle cx="547.87" cy="433.17" r="2.45"/><circle cx="553.71" cy="432.94" r="2.45"/><circle cx="559.54" cy="432.59" r="2.45"/><circle cx="565.37" cy="432.11" r="2.45"/><circle cx="571.21" cy="431.5" r="2.45"/><circle cx="577.04" cy="430.75" r="2.45"/><circle cx="582.88" cy="429.85" r="2.45"/><circle cx="588.71" cy="428.8" r="2.45"/><circle cx="594.54" cy="427.57" r="2.45"/><circle cx="600.38" cy="426.16" r="2.45"/><circle cx="606.21" cy="424.55" r="2.45"/><circle cx="612.05" cy="422.73" r="2.45"/><circle cx="617.88" cy="420.67" r="2.45"/><circle cx="623.71" cy="418.35" r="2.45"/><circle cx="629.55" cy="415.73" r="2.45"/><circle cx="635.38" cy="412.78" r="2.45"/><circle cx="641.22" cy="409.46" r="2.45"/><circle cx="647.05" cy="405.7" r="2.45"/><circle cx="652.88" cy="401.45" r="2.45"/><circle cx="658.72" cy="396.62" r="2.45"/><circle cx="664.55" cy="391.13" r="2.45"/><circle cx="670.39" cy="384.87" r="2.45"/><circle cx="676.22" cy="377.7" r="2.45"/></g>
<polyline points="501.2,409.27 507.03,409.19 512.87,408.87 518.7,408.34 524.54,407.61 530.37,406.7 536.2,405.6 542.04,404.32 547.87,402.86 553.71,401.2 559.54,399.34 565.37,397.27 571.21,394.97 577.04,392.43 582.88,389.63 588.71,386.54 594.54,383.16 600.38,379.45 606.21,375.38 612.05,370.9 617.88,365.99 623.71,360.56 629.55,354.58 635.38,347.94 641.22,340.55 647.05,332.31 652.88,323.07 658.72,312.68 664.55,300.95 670.39,287.68 676.22,272.6" fill="none" stroke="#e3312e" stroke-width="1.0"/>
<g fill="#e3312e"><circle cx="501.2" cy="409.27" r="2.45"/><circle cx="507.03" cy="409.19" r="2.45"/><circle cx="512.87" cy="408.87" r="2.45"/><circle cx="518.7" cy="408.34" r="2.45"/><circle cx="524.54" cy="407.61" r="2.45"/><circle cx="530.37" cy="406.7" r="2.45"/><circle cx="536.2" cy="405.6" r="2.45"/><circle cx="542.04" cy="404.32" r="2.45"/><circle cx="547.87" cy="402.86" r="2.45"/><circle cx="553.71" cy="401.2" r="2.45"/><circle cx="559.54" cy="399.34" r="2.45"/><circle cx="565.37" cy="397.27" r="2.45"/><circle cx="571.21" cy="394.97" r="2.45"/><circle cx="577.04" cy="392.43" r="2.45"/><circle cx="582.88" cy="389.63" r="2.45"/><circle cx="588.71" cy="386.54" r="2.45"/><circle cx="594.54" cy="383.16" r="2.45"/><circle cx="600.38" cy="379.45" r="2.45"/><circle cx="606.21" cy="375.38" r="2.45"/><circle cx="612.05" cy="370.9" r="2.45"/><circle cx="617.88" cy="365.99" r="2.45"/><circle cx="623.71" cy="360.56" r="2.45"/><circle cx="629.55" cy="354.58" r="2.45"/><circle cx="635.38" cy="347.94" r="2.45"/><circle cx="641.22" cy="340.55" r="2.45"/><circle cx="647.05" cy="332.31" r="2.45"/><circle cx="652.88" cy="323.07" r="2.45"/><circle cx="658.72" cy="312.68" r="2.45"/><circle cx="664.55" cy="300.95" r="2.45"/><circle cx="670.39" cy="287.68" r="2.45"/><circle cx="676.22" cy="272.6" r="2.45"/></g>
<text y="257.7" class="ti"><tspan x="501.4" class="tau">τ</tspan><tspan x="505.5" class="sub" dy="3">ENZ,decay</tspan><tspan x="541.2" dy="-3">= 0.05,</tspan><tspan x="572.9" class="tau">τ</tspan><tspan x="577.2" class="sub" dy="3">MIC</tspan><tspan x="591.7" dy="-3">= 1.5</tspan></text>
<text x="461.8" y="259.6" class="lt">f</text>
<text transform="translate(471.6 348.1) rotate(-90) scale(0.95 1)" class="yl" text-anchor="middle">Standardized SOC (kg C m<tspan class="sup" dy="-3.5">−2</tspan><tspan dy="3.5">)</tspan></text>
<text x="591.1" y="468" class="al" text-anchor="middle">Microbial CUE</text>
<line x1="284.7" y1="5" x2="301" y2="5" stroke="#2a80c2" stroke-width="1.2"/><circle cx="293.1" cy="5" r="2.45" fill="#2a80c2"/>
<text transform="translate(309.8 8) scale(0.93 1)" class="lg">NPP × 1</text>
<line x1="359.9" y1="5" x2="376.1" y2="5" stroke="#e3312e" stroke-width="1.2"/><circle cx="368" cy="5" r="2.45" fill="#e3312e"/>
<text transform="translate(384.9 8) scale(0.93 1)" class="lg">NPP × 2</text>
</svg>
</body></html>
